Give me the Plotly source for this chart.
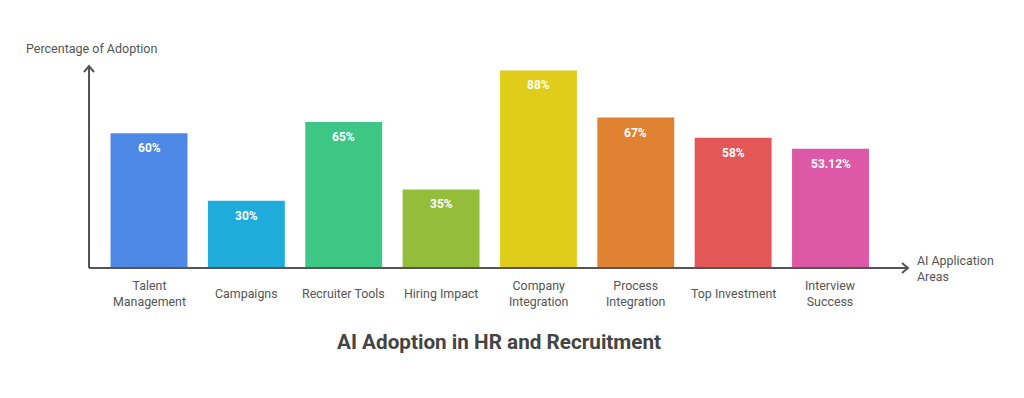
import plotly.graph_objects as go

categories = ["Talent Management", "Campaigns", "Recruiter Tools", "Hiring Impact",
              "Company Integration", "Process Integration", "Top Investment", "Interview Success"]
tick_labels = ["Talent<br>Management", "Campaigns", "Recruiter Tools", "Hiring Impact",
               "Company<br>Integration", "Process<br>Integration", "Top Investment", "Interview<br>Success"]
values = [60, 30, 65, 35, 88, 67, 58, 53.12]
value_labels = ["60%", "30%", "65%", "35%", "88%", "67%", "58%", "53.12%"]
colors = ["#4E88E6", "#20ACDB", "#3EC684", "#94BD3A", "#E0CC1A", "#DF8231", "#E35757", "#DD58A6"]

# page body has an 8px margin; work in reference pixel coords and shift
OFF = 8
W, H = 1024 - 2 * OFF, 398 - 2 * OFF
L, R, T, B = 89, 908, 66, 268
pw, ph = R - L, B - T
FONT = "Roboto"
AXC = "#555555"

fig = go.Figure(go.Bar(
    x=categories, y=values, marker=dict(color=colors, line=dict(width=0)),
    width=0.79, hoverinfo="skip",
))

annotations = []
for c, v, t in zip(categories, values, value_labels):
    annotations.append(dict(x=c, y=v, xref="x", yref="y", text=f"<b>{t}</b>", showarrow=False,
                            yanchor="middle", yshift=-15,
                            font=dict(family=FONT, size=12, color="white")))
for c, t in zip(categories, tick_labels):
    annotations.append(dict(x=c, y=-(293 - B) / ph, xref="x", yref="paper", text=t, showarrow=False,
                            yanchor="middle", xanchor="center",
                            font=dict(family=FONT, size=12.4, color=AXC)))
annotations.append(dict(x=(24 - L) / pw, y=1 + (T - 49) / ph, xref="paper", yref="paper",
                        text="Percentage of Adoption", showarrow=False, xanchor="left", yanchor="middle",
                        font=dict(family=FONT, size=12.5, color=AXC)))
annotations.append(dict(x=(915 - L) / pw, y=0, xref="paper", yref="paper",
                        text="AI Application<br>Areas", showarrow=False, xanchor="left", yanchor="middle",
                        align="left", font=dict(family=FONT, size=12.4, color=AXC)))
annotations.append(dict(x=0.5, y=-(342 - B) / ph, xref="paper", yref="paper",
                        text="<b>AI Adoption in HR and Recruitment</b>", showarrow=False,
                        xanchor="center", yanchor="middle",
                        font=dict(family=FONT, size=20.7, color="#444444")))

def px(x):
    return (x - L) / pw

def py(y):
    return (B - y) / ph

shapes = [
    dict(type="line", xref="paper", yref="paper", x0=0, y0=0, x1=0, y1=1,
         line=dict(color=AXC, width=2)),
    dict(type="line", xref="paper", yref="paper", x0=0, y0=0, x1=1, y1=0,
         line=dict(color=AXC, width=2)),
    dict(type="path", xref="paper", yref="paper",
         path=f"M {px(L-5)} {py(T+6)} L {px(L)} {py(T)} L {px(L+5)} {py(T+6)}",
         line=dict(color=AXC, width=2)),
    dict(type="path", xref="paper", yref="paper",
         path=f"M {px(R-6)} {py(B-5)} L {px(R)} {py(B)} L {px(R-6)} {py(B+5)}",
         line=dict(color=AXC, width=2)),
]

fig.update_layout(
    width=W, height=H,
    margin=dict(l=L - OFF, r=1024 - OFF - R, t=T - OFF, b=398 - OFF - B, pad=0),
    paper_bgcolor="white", plot_bgcolor="white",
    showlegend=False,
    xaxis=dict(range=[-60 / 97.36, 7 + 77.5 / 97.36], showticklabels=False, showgrid=False,
               zeroline=False, showline=False, ticks="", fixedrange=True),
    yaxis=dict(range=[0, ph / 2.245], showticklabels=False, showgrid=False,
               zeroline=False, showline=False, ticks="", fixedrange=True),
    annotations=annotations, shapes=shapes,
    font=dict(family=FONT),
)

fig.write_html("out.html", config={"displayModeBar": False})
